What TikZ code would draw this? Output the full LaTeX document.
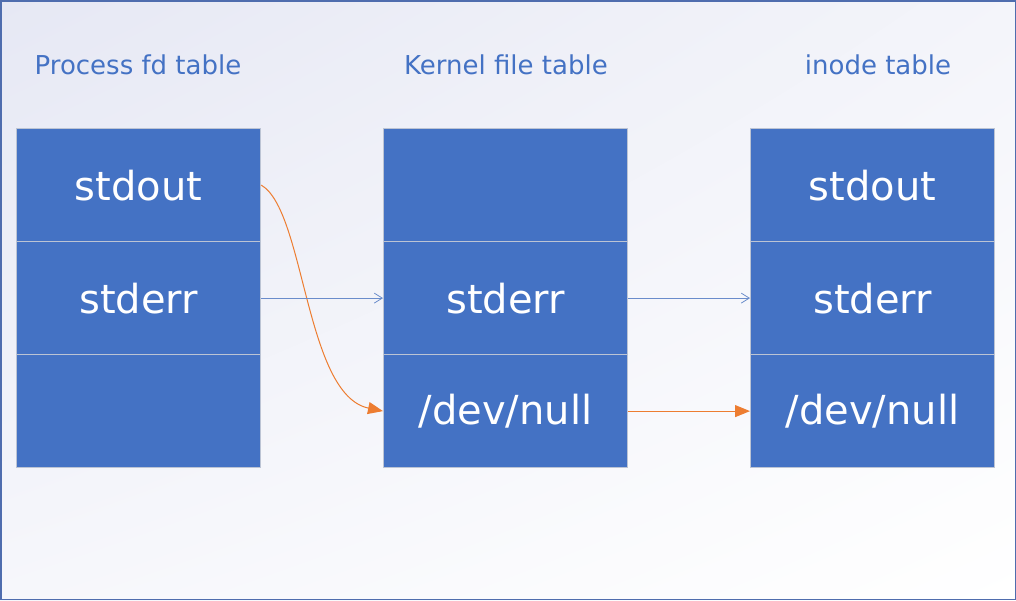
\documentclass[tikz,border=0pt]{standalone}
\usepackage{fontspec}
\setmainfont{DejaVu Sans}
\usetikzlibrary{arrows.meta,shadings}
\definecolor{cellblue}{HTML}{4472C4}
\definecolor{cellline}{HTML}{BCC4D4}
\definecolor{titleblue}{HTML}{4472C4}
\definecolor{linkblue}{HTML}{6A8CCB}
\definecolor{linkorange}{HTML}{ED7D31}
\definecolor{bgtl}{HTML}{E6E8F4}
\definecolor{framecol}{HTML}{4F6DAE}
\tikzset{
  cell/.style={draw=cellline, line width=1.2pt, fill=cellblue, minimum width=244pt, minimum height=113pt, inner sep=0pt, text=white, font=\fontsize{40}{46}\selectfont, anchor=north west},
  title/.style={text=titleblue, font=\fontsize{26}{30}\selectfont, inner sep=0pt},
  bluelink/.style={draw=linkblue, line width=0.8pt, -{Straight Barb[length=8pt,width=10pt]}},
  orangelink/.style={draw=linkorange, line width=1pt, -{Triangle[length=15pt,width=12pt]}}
}
\begin{document}
\begin{tikzpicture}[x=1pt,y=-1pt]
\useasboundingbox (0,0) rectangle (1016,600);
\shade[upper left=bgtl, upper right=bgtl!45!white, lower left=bgtl!35!white, lower right=white] (0,0) rectangle (1016,600);
\draw[framecol, line width=1.5pt] (0.75,0.75) rectangle (1015.25,599.25);
% titles
\node[title] (t1) at (138,65) {Process fd table};
\node[title] (t2) at (506,65) {Kernel file table};
\node[title] (t3) at (878,65) {inode table};
% column 1
\node[cell] (a1) at (16,128) {stdout};
\node[cell] (a2) at (16,241) {stderr};
\node[cell] (a3) at (16,354) {};
% column 2
\node[cell] (b1) at (383,128) {};
\node[cell] (b2) at (383,241) {stderr};
\node[cell] (b3) at (383,354) {/dev/null};
% column 3
\node[cell] (c1) at (750,128) {stdout};
\node[cell] (c2) at (750,241) {stderr};
\node[cell] (c3) at (750,354) {/dev/null};
% links
\draw[orangelink] (a1.east) .. controls (305,210) and (305,395) .. (b3.west);
\draw[bluelink] (a2.east) -- (b2.west);
\draw[bluelink] (b2.east) -- (c2.west);
\draw[orangelink] (b3.east) -- (c3.west);
\end{tikzpicture}
\end{document}
